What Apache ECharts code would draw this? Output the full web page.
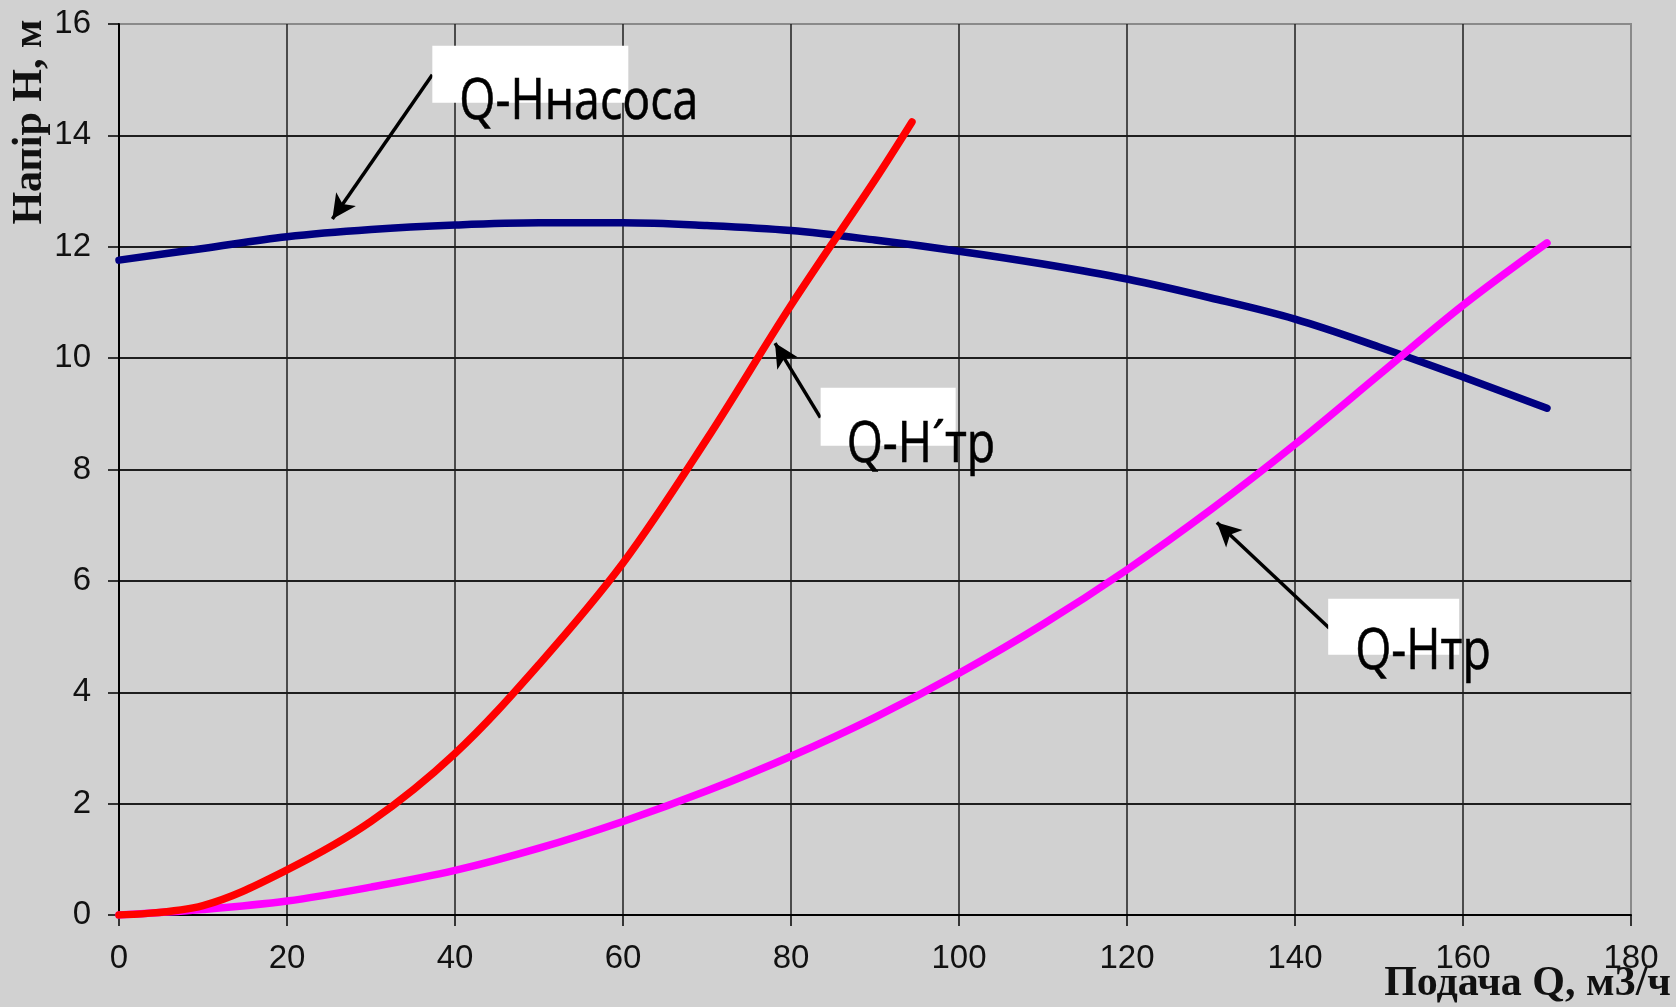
<!DOCTYPE html>
<html><head><meta charset="utf-8">
<style>html,body{margin:0;padding:0;background:#d1d1d1;}#c{width:1676px;height:1007px;}</style>
<script src="https://cdn.jsdelivr.net/npm/echarts@6/dist/echarts.min.js"></script>
</head><body><div id="c"></div>
<script>
// axis ranges / ticks
const xMin = 0, xMax = 180, xStep = 20;
const yMin = 0, yMax = 16, yStep = 2;
const xTitle = 'Подача Q, м3/ч';
const yTitle = 'Напір H, м';

// Q-Hнасоса (pump curve)
const qPump = [0, 10, 20, 30, 40, 50, 60, 70, 80, 90, 100, 110, 120, 130, 140, 150, 160, 170];
const hPump = [11.76, 11.97, 12.18, 12.31, 12.39, 12.43, 12.43, 12.38, 12.29, 12.12, 11.92, 11.69, 11.42, 11.08, 10.70, 10.20, 9.66, 9.10];

// Q-H'тр (red)
const qSys2 = [0, 10, 20, 30, 40, 50, 60, 70, 80, 90, 94.4];
const hSys2 = [0, 0.17, 0.81, 1.68, 2.9, 4.5, 6.32, 8.55, 10.95, 13.2, 14.24];

// Q-Hтр (magenta)
const qSys = [0, 10, 20, 30, 40, 50, 60, 70, 80, 90, 100, 110, 120, 130, 140, 150, 160, 170];
const hSys = [0, 0.1, 0.25, 0.5, 0.8, 1.2, 1.68, 2.23, 2.85, 3.55, 4.34, 5.22, 6.2, 7.28, 8.45, 9.7, 10.95, 12.07];

// annotations (data coords)
const labelTexts = ['Q-Hнасоса', 'Q-H\u00B4тр', 'Q-Hтр'];
const labelBoxAt = [[37.3, 15.61], [83.53, 9.47], [143.95, 5.68]];
const arrowFrom = [[37.3, 15.09], [83.5, 8.93], [144.1, 5.15]];
const arrowTo = [[25.4, 12.5], [78.1, 10.27], [130.7, 7.05]];

const boxSize = [[196, 57], [135, 58], [131, 56]];
const textOff = [[27, 74], [26, 75], [27, 71]];

const zip = (a, b) => a.map((v, i) => [v, b[i]]);

const chart = echarts.init(document.getElementById('c'), null, {renderer: 'canvas'});
const axisLabelStyle = {color: '#111', fontSize: 33, fontFamily: 'Liberation Sans, Arial, sans-serif'};
chart.setOption({
  animation: false,
  backgroundColor: '#d1d1d1',
  grid: {left: 119, right: 45, top: 24, bottom: 92, show: true, borderColor: '#8a8a8a', borderWidth: 2, backgroundColor: 'transparent'},
  xAxis: {
    type: 'value', min: xMin, max: xMax, interval: xStep,
    axisLine: {show: true, onZero: false, lineStyle: {color: '#000', width: 2}},
    axisTick: {show: true, length: 11, lineStyle: {color: '#000', width: 1.5}},
    axisLabel: Object.assign({margin: 27}, axisLabelStyle),
    splitLine: {show: true, showMinLine: false, showMaxLine: false, lineStyle: {color: '#1e1e1e', width: 1.5}}
  },
  yAxis: {
    type: 'value', min: yMin, max: yMax, interval: yStep,
    axisLine: {show: true, onZero: false, lineStyle: {color: '#000', width: 2}},
    axisTick: {show: true, length: 11, lineStyle: {color: '#000', width: 1.5}},
    axisLabel: Object.assign({margin: 28}, axisLabelStyle),
    splitLine: {show: true, showMinLine: false, showMaxLine: false, lineStyle: {color: '#1e1e1e', width: 2}}
  },
  series: [
    {
      name: 'Q-Hнасоса', type: 'line', data: zip(qPump, hPump), showSymbol: false, smooth: 0.35, z: 2,
      lineStyle: {color: '#000080', width: 7.5, cap: 'round'},
      markLine: {
        silent: true, symbol: ['none', 'arrow'], symbolSize: [18, 24],
        lineStyle: {color: '#000', width: 3.5, type: 'solid'},
        label: {show: false},
        data: arrowFrom.map((f, i) => [{coord: f}, {coord: arrowTo[i]}])
      }
    },
    {
      name: 'Q-Hтр', type: 'line', data: zip(qSys, hSys), showSymbol: false, smooth: 0.35, z: 3,
      lineStyle: {color: '#ff00ff', width: 7.5, cap: 'round'}
    },
    {
      name: "Q-H'тр", type: 'line', data: zip(qSys2, hSys2), showSymbol: false, smooth: 0.35, z: 4,
      lineStyle: {color: '#ff0000', width: 7.5, cap: 'round'}
    }
  ]
});

const g = [];
labelTexts.forEach((t, i) => {
  const p = chart.convertToPixel({gridIndex: 0}, labelBoxAt[i]);
  g.push({type: 'rect', z: 100, silent: true, shape: {x: p[0], y: p[1], width: boxSize[i][0], height: boxSize[i][1]}, style: {fill: '#ffffff'}});
  g.push({type: 'text', z: 101, silent: true, x: p[0] + textOff[i][0], y: p[1] + textOff[i][1] - 17, scaleX: 0.83,
    style: {text: t, x: 0, y: 0, font: '56px "Open Sans"', fill: '#000', stroke: '#000', lineWidth: 0.6, align: 'left', verticalAlign: 'middle', textAlign: 'left', textVerticalAlign: 'middle'}});
});
g.push({type: 'text', z: 101, silent: true, x: 30, y: 122, rotation: Math.PI / 2,
  style: {text: yTitle, x: 0, y: 0, font: 'bold 42px "Liberation Serif"', fill: '#111', align: 'center', verticalAlign: 'middle', textAlign: 'center', textVerticalAlign: 'middle'}});
g.push({type: 'text', z: 101, silent: true, x: 1671, y: 984,
  style: {text: xTitle, x: 0, y: 0, font: 'bold 42px "Liberation Serif"', fill: '#111', align: 'right', verticalAlign: 'middle', textAlign: 'right', textVerticalAlign: 'middle'}});
chart.setOption({graphic: g});
</script>
</body></html>
